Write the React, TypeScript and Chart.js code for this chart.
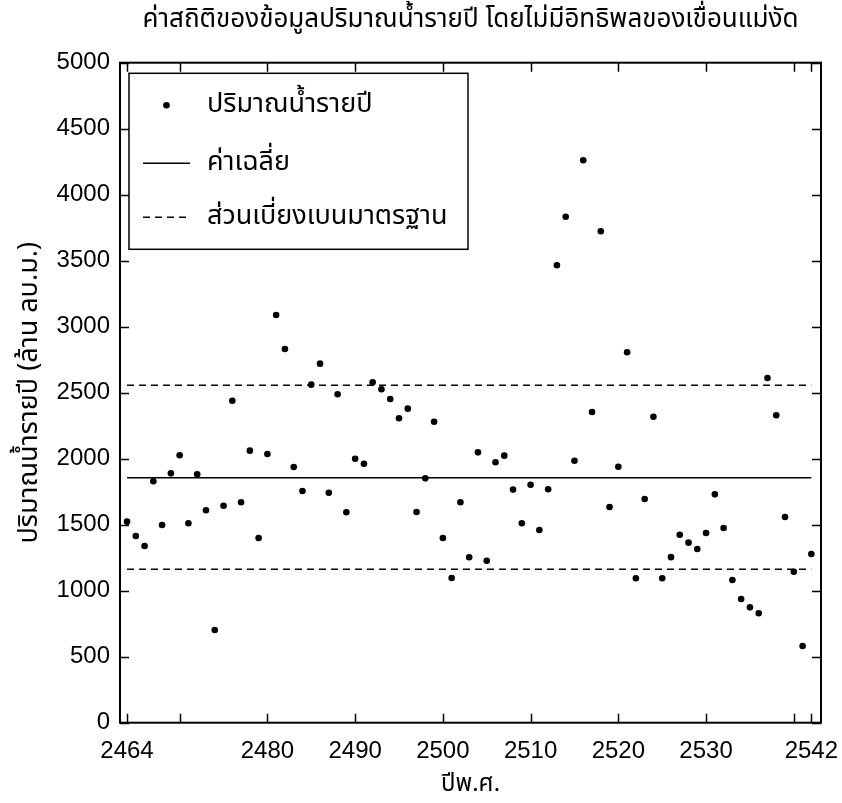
import React, { useEffect, useRef } from 'react';
import { Chart, registerables } from 'chart.js';

Chart.register(...registerables);

const TITLE = 'ค่าสถิติของข้อมูลปริมาณน้ำรายปี โดยไม่มีอิทธิพลของเขื่อนแม่งัด';
const X_TITLE = 'ปีพ.ศ.';
const Y_TITLE = 'ปริมาณน้ำรายปี (ล้าน ลบ.ม.)';
const LEGEND_LABELS = ['ปริมาณน้ำรายปี', 'ค่าเฉลี่ย', 'ส่วนเบี่ยงเบนมาตรฐาน'];

const YEARS = [
  2464, 2465, 2466, 2467, 2468, 2469, 2470, 2471, 2472, 2473,
  2474, 2475, 2476, 2477, 2478, 2479, 2480, 2481, 2482, 2483,
  2484, 2485, 2486, 2487, 2488, 2489, 2490, 2491, 2492, 2493,
  2494, 2495, 2496, 2497, 2498, 2499, 2500, 2501, 2502, 2503,
  2504, 2505, 2506, 2507, 2508, 2509, 2510, 2511, 2512, 2513,
  2514, 2515, 2516, 2517, 2518, 2519, 2520, 2521, 2522, 2523,
  2524, 2525, 2526, 2527, 2528, 2529, 2530, 2531, 2532, 2533,
  2534, 2535, 2536, 2537, 2538, 2539, 2540, 2541, 2542,
];

const ANNUAL_FLOW = [
  1523, 1414, 1339, 1829, 1498, 1889, 2026, 1511, 1882, 1609,
  702, 1644, 2439, 1670, 2061, 1399, 2036, 3089, 2831, 1937,
  1755, 2561, 2720, 1742, 2488, 1594, 2000, 1962, 2579, 2526,
  2452, 2306, 2379, 1596, 1851, 2280, 1399, 1096, 1670, 1253,
  2048, 1227, 1973, 2023, 1766, 1511, 1803, 1460, 1768, 3465,
  3833, 1985, 4261, 2354, 3723, 1634, 1939, 2806, 1094, 1695,
  2318, 1094, 1254, 1424, 1364, 1316, 1437, 1730, 1475, 1081,
  937, 874, 829, 2611, 2329, 1558, 1144, 581, 1278,
];

const MEAN_VALUE = 1856;
const STD_UPPER = 2556;
const STD_LOWER = 1162;
const LINE_START = 2464;
const LINE_END = 2542;

const X_TICKS = [2464, 2470, 2480, 2490, 2500, 2510, 2520, 2530, 2540, 2542];
const X_TICK_LABELS = ['2464', '', '2480', '2490', '2500', '2510', '2520', '2530', '', '2542'];
const Y_TICKS = [0, 500, 1000, 1500, 2000, 2500, 3000, 3500, 4000, 4500, 5000];

const THAI_FONT = "'Noto Sans Thai', 'Noto Sans Thai UI', Tahoma, 'Noto Sans', sans-serif";
const NUM_FONT = "'Liberation Sans', Arial, sans-serif";

const framePlugin = {
  id: 'frameTicks',
  afterDatasetsDraw(chart: any) {
    const { ctx, chartArea, scales } = chart;
    const { left, right, top, bottom } = chartArea;
    const x = scales.x;
    const y = scales.y;
    const tl = 9;
    ctx.save();
    ctx.strokeStyle = '#000';
    ctx.lineWidth = 1.5;
    ctx.beginPath();
    for (const v of X_TICKS) {
      const px = Math.round(x.getPixelForValue(v)) + 0.5;
      ctx.moveTo(px, bottom);
      ctx.lineTo(px, bottom - tl);
      ctx.moveTo(px, top);
      ctx.lineTo(px, top + tl);
    }
    for (const v of Y_TICKS) {
      const py = Math.round(y.getPixelForValue(v)) + 0.5;
      ctx.moveTo(left, py);
      ctx.lineTo(left + tl, py);
      ctx.moveTo(right, py);
      ctx.lineTo(right - tl, py);
    }
    ctx.stroke();
    ctx.lineWidth = 2;
    ctx.strokeRect(left, top, right - left, bottom - top);
    ctx.restore();
  },
  afterDraw(chart: any) {
    const { ctx, chartArea } = chart;
    const bx = chartArea.left + 9;
    const by = chartArea.top + 10.6;
    const bw = 339;
    const bh = 176;
    ctx.save();
    ctx.fillStyle = '#fff';
    ctx.fillRect(bx, by, bw, bh);
    ctx.strokeStyle = '#000';
    ctx.lineWidth = 1.5;
    ctx.strokeRect(bx, by, bw, bh);
    const rows = [by + 32, by + 90, by + 144];
    const sampleL = bx + 14;
    const sampleR = bx + 61;
    const textX = bx + 78;
    ctx.fillStyle = '#000';
    ctx.beginPath();
    ctx.arc((sampleL + sampleR) / 2, rows[0], 3.3, 0, Math.PI * 2);
    ctx.fill();
    ctx.lineWidth = 1.5;
    ctx.beginPath();
    ctx.moveTo(sampleL, rows[1]);
    ctx.lineTo(sampleR, rows[1]);
    ctx.stroke();
    ctx.setLineDash([7, 5]);
    ctx.beginPath();
    ctx.moveTo(sampleL, rows[2]);
    ctx.lineTo(sampleR, rows[2]);
    ctx.stroke();
    ctx.setLineDash([]);
    ctx.font = `27px ${THAI_FONT}`;
    ctx.textBaseline = 'middle';
    ctx.textAlign = 'left';
    LEGEND_LABELS.forEach((t, i) => ctx.fillText(t, textX, rows[i] + 1));
    ctx.restore();
  },
};

export default function App() {
  const ref = useRef<HTMLCanvasElement | null>(null);
  useEffect(() => {
    if (!ref.current) return;
    const chart = new Chart(ref.current, {
      type: 'scatter',
      data: {
        datasets: [
          {
            label: LEGEND_LABELS[0],
            data: YEARS.map((yr, i) => ({ x: yr, y: ANNUAL_FLOW[i] })),
            backgroundColor: '#000',
            borderColor: '#000',
            borderWidth: 0,
            pointRadius: 3.3,
          },
          {
            label: LEGEND_LABELS[1],
            data: [{ x: LINE_START, y: MEAN_VALUE }, { x: LINE_END, y: MEAN_VALUE }],
            showLine: true,
            borderColor: '#000',
            borderWidth: 1.5,
            pointRadius: 0,
          },
          {
            label: LEGEND_LABELS[2],
            data: [{ x: LINE_START, y: STD_UPPER }, { x: LINE_END, y: STD_UPPER }],
            showLine: true,
            borderColor: '#000',
            borderWidth: 1.5,
            borderDash: [7, 5],
            pointRadius: 0,
          },
          {
            label: LEGEND_LABELS[2] + ' ',
            data: [{ x: LINE_START, y: STD_LOWER }, { x: LINE_END, y: STD_LOWER }],
            showLine: true,
            borderColor: '#000',
            borderWidth: 1.5,
            borderDash: [7, 5],
            pointRadius: 0,
          },
        ],
      },
      options: {
        responsive: false,
        animation: false,
        layout: { padding: { left: 0, right: 21, top: 0, bottom: 0 } },
        plugins: {
          legend: { display: false },
          tooltip: { enabled: false },
          title: {
            display: true,
            text: TITLE,
            fullSize: false,
            color: '#000',
            font: { family: THAI_FONT, size: 26, weight: 'normal', lineHeight: 1.2 },
            padding: { top: 6.4, bottom: 25.1 },
          },
        },
        scales: {
          x: {
            type: 'linear',
            min: 2463.2,
            max: 2543.1,
            grid: { display: false, drawTicks: false },
            border: { display: false },
            afterBuildTicks: (scale: any) => {
              scale.ticks = X_TICKS.map((v) => ({ value: v }));
            },
            afterFit: (scale: any) => {
              scale.height = 80.3;
              scale.paddingLeft = 0;
              scale.paddingRight = 0;
            },
            ticks: {
              autoSkip: false,
              maxRotation: 0,
              minRotation: 0,
              padding: 14,
              color: '#000',
              font: { family: NUM_FONT, size: 24 },
              callback: (value: any) => {
                const i = X_TICKS.indexOf(Number(value));
                return i >= 0 ? X_TICK_LABELS[i] : '';
              },
            },
            title: {
              display: true,
              text: X_TITLE,
              color: '#000',
              font: { family: THAI_FONT, size: 24, lineHeight: 1.2 },
              padding: { top: 0, bottom: 2 },
            },
          },
          y: {
            min: 0,
            max: 5000,
            grid: { display: false, drawTicks: false },
            border: { display: false },
            afterBuildTicks: (scale: any) => {
              scale.ticks = Y_TICKS.map((v) => ({ value: v }));
            },
            afterFit: (scale: any) => {
              scale.width = 120;
              scale.paddingTop = 0;
              scale.paddingBottom = 0;
            },
            ticks: {
              padding: 10,
              color: '#000',
              font: { family: NUM_FONT, size: 24 },
              callback: (value: any) => String(value),
            },
            title: {
              display: true,
              text: Y_TITLE,
              color: '#000',
              font: { family: THAI_FONT, size: 27, lineHeight: 1.2 },
              padding: { top: 15, bottom: 0 },
            },
          },
        },
      },
      plugins: [framePlugin],
    });
    return () => chart.destroy();
  }, []);
  return (
    <div style={{ position: 'absolute', left: 0, top: 0, width: 842, height: 803, background: '#fff' }}>
      <canvas ref={ref} width={842} height={803} style={{ width: 842, height: 803, display: 'block' }} />
    </div>
  );
}
